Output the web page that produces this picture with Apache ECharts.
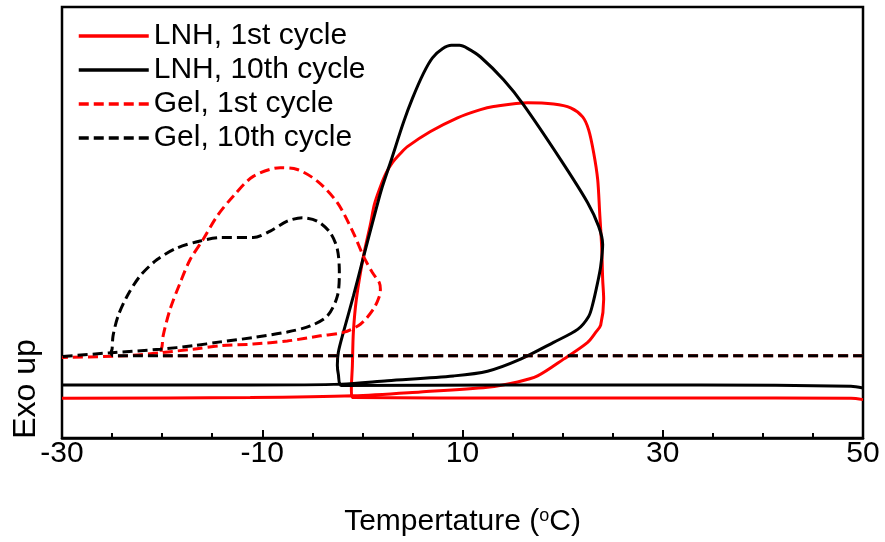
<!DOCTYPE html>
<html>
<head>
<meta charset="utf-8">
<script src="https://cdn.jsdelivr.net/npm/echarts@6/dist/echarts.min.js"></script>
<style>
html,body{margin:0;padding:0;background:#fff;}
#chart{width:885px;height:542px;}
</style>
</head>
<body>
<div id="chart"></div>
<script>
// Series names
const seriesNames = ['LNH, 1st cycle', 'LNH, 10th cycle', 'Gel, 1st cycle', 'Gel, 10th cycle'];

// Temperature (°C) vs heat flow (arbitrary units, exo up) — each trace in measurement order
const lnh1st = [[50,8.9],[48.8,9.2],[33.8,9.3],[13.8,9.3],[-1.0,9.4],[-1.1,11.3],[-1.0,16.7],[-0.9,24.5],[-0.6,32.2],[0.1,42.1],[0.8,49.5],[1.2,54.2],[1.8,58.3],[2.4,61.6],[3.0,63.9],[3.8,66.0],[4.5,67.6],[6.8,71.1],[9.5,74.3],[11.8,76.2],[13.1,76.9],[16.5,77.8],[19.1,77.5],[20.8,76.6],[22.0,74.5],[22.6,71.5],[23.1,66.2],[23.5,60.0],[23.7,52.3],[23.9,44.4],[24.0,36.8],[24.1,32.2],[23.8,26.2],[23.3,24.5],[22.5,22.2],[20.1,18.3],[17.5,14.4],[15.5,13.0],[12.5,11.8],[5.8,10.7],[-0.9,9.8],[-11.2,9.4],[-30,9.2]];

const lnh10th = [[50,11.6],[48.8,12.0],[33.8,12.3],[13.8,12.3],[-2.1,12.2],[-2.4,14.8],[-2.5,16.9],[-2.4,19.9],[-1.9,24.5],[-0.9,32.9],[0.1,41.9],[1.1,50.7],[1.9,57.6],[2.8,63.9],[4.1,73.2],[5.0,78.8],[6.1,84.6],[7.0,88.2],[8.0,90.3],[8.9,91.1],[9.7,91.1],[10.5,90.4],[11.8,88.4],[14.1,83.1],[16.1,77.3],[19.8,64.6],[22.5,54.6],[23.6,49.1],[24.0,44.9],[23.8,39.8],[23.5,36.1],[23.0,31.0],[22.6,28.2],[21.5,25.2],[19.1,22.2],[15.8,18.3],[12.5,15.5],[9.1,14.4],[2.5,13.3],[-2.1,12.5],[-11.2,12.3],[-30,12.3]];

const gel1st = [[50,19.1],[13.8,19.1],[-20.0,19.1],[-20.1,20.1],[-20.0,21.4],[-19.9,23.7],[-19.2,29.9],[-18.2,36.0],[-17.2,41.4],[-15.9,46.1],[-14.5,51.5],[-12.9,56.1],[-10.9,60.7],[-8.2,62.7],[-6.5,62.3],[-4.5,59.6],[-2.5,54.6],[-0.9,47.6],[0.1,42.2],[1.0,38.4],[1.7,36.0],[1.8,34.5],[1.7,32.9],[1.1,29.9],[-0.2,26.4],[-1.9,24.5],[-4.2,23.7],[-7.5,22.5],[-10.9,21.8],[-14.2,21.4],[-16.9,20.6],[-20.2,19.8],[-23.5,19.1],[-30,18.7]];

const gel10th = [[50,19.1],[13.8,19.1],[-24.9,19.1],[-25.1,19.9],[-25.0,20.6],[-24.9,23.7],[-24.4,28.3],[-23.5,32.9],[-22.2,37.6],[-20.5,41.4],[-18.5,44.1],[-16.2,45.7],[-14.2,46.5],[-10.9,46.5],[-9.2,48.0],[-7.5,50.3],[-6.0,51.1],[-4.5,50.3],[-3.2,47.6],[-2.5,43.8],[-2.3,38.4],[-2.5,32.9],[-3.5,28.3],[-5.2,26.0],[-7.5,24.6],[-10.9,23.3],[-14.2,22.3],[-16.9,21.4],[-20.2,20.6],[-25.0,19.8],[-30,18.9]];

// Axis settings
const xMin = -30, xMax = 50, xStep = 20;
const yMin = 0, yMax = 100;

const FONT = '"Liberation Sans", Arial, sans-serif';

const chart = echarts.init(document.getElementById('chart'));

function mk(name, data, color, dashed) {
  return {
    name: name,
    type: 'line',
    data: data,
    showSymbol: false,
    symbol: 'none',
    smooth: 0.3,
    lineStyle: { color: color, width: 3, type: dashed ? [10, 5] : 'solid' },
    itemStyle: { color: color },
    animation: false
  };
}

chart.setOption({
  backgroundColor: '#fff',
  animation: false,
  grid: { left: 62, right: 22, top: 7, bottom: 103, show: true, borderColor: '#000', borderWidth: 2.5, backgroundColor: 'transparent' },
  legend: {
    orient: 'vertical',
    left: 72,
    top: 16,
    itemWidth: 70,
    itemHeight: 14,
    itemGap: 4,
    itemStyle: { opacity: 0 },
    lineStyle: { width: 3.5 },
    textStyle: { fontSize: 30, fontFamily: FONT, color: '#000', lineHeight: 30, padding: [0,0,0,0] },
    data: seriesNames
  },
  xAxis: {
    type: 'value',
    min: xMin, max: xMax, interval: xStep,
    axisLine: { show: true, lineStyle: { color: '#000', width: 2.5 } },
    axisTick: { show: true, inside: true, length: 8, lineStyle: { color: '#000', width: 2 } },
    minorTick: { show: true, splitNumber: 4, length: 5, lineStyle: { color: '#000', width: 2 } },
    splitLine: { show: false },
    axisLabel: { fontSize: 30, fontFamily: FONT, color: '#000', margin: 1 },
    name: 'Tempertature ({sup|o}C)',
    nameLocation: 'middle',
    nameGap: 69,
    nameTextStyle: {
      fontSize: 30, fontFamily: FONT, color: '#000',
      rich: { sup: { fontSize: 18, fontFamily: FONT, color: '#000', verticalAlign: 'top', lineHeight: 30 } }
    }
  },
  yAxis: {
    type: 'value',
    min: yMin, max: yMax,
    axisLine: { show: false },
    axisTick: { show: false },
    axisLabel: { show: false },
    splitLine: { show: false }
  },
  graphic: [{
    type: 'text',
    x: 26, y: 389,
    rotation: Math.PI / 2,
    style: { text: 'Exo up', font: '32px ' + FONT, fill: '#000', align: 'center', verticalAlign: 'middle' }
  }],
  series: [
    mk(seriesNames[0], lnh1st, '#ff0000', false),
    mk(seriesNames[1], lnh10th, '#000000', false),
    mk(seriesNames[2], gel1st, '#ff0000', true),
    mk(seriesNames[3], gel10th, '#000000', true)
  ]
});
</script>
</body>
</html>
